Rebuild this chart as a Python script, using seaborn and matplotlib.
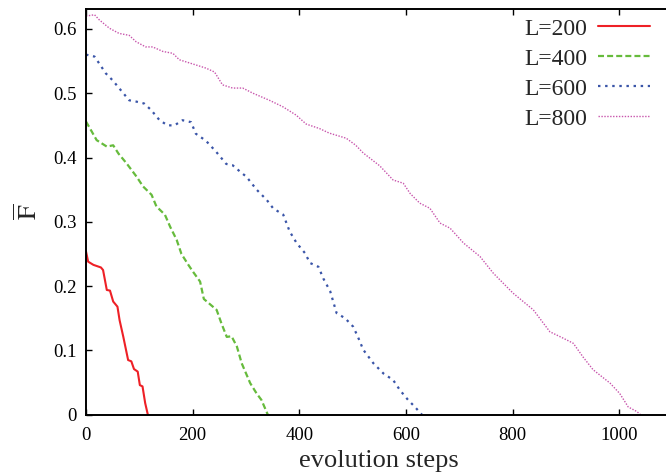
import matplotlib
matplotlib.use("Agg")
import matplotlib.pyplot as plt
import seaborn as sns
import pandas as pd

# ---- data ----
L200_x = [0, 4, 14, 28, 32, 39, 45, 51, 59, 63, 70, 79, 85, 90, 97, 101, 106, 111, 116]
L200_y = [0.254, 0.238, 0.233, 0.229, 0.225, 0.194, 0.193, 0.176, 0.168, 0.147, 0.121,
          0.085, 0.083, 0.071, 0.067, 0.046, 0.044, 0.018, 0.0]

L400_x = [0, 20, 39, 51, 61, 76, 95, 107, 123, 132, 148, 158, 170, 179, 192, 201, 214,
          221, 245, 254, 264, 273, 283, 292, 308, 320, 329, 341]
L400_y = [0.456, 0.427, 0.417, 0.419, 0.406, 0.391, 0.370, 0.355, 0.342, 0.324, 0.311,
          0.292, 0.272, 0.250, 0.233, 0.222, 0.207, 0.180, 0.163, 0.142, 0.121, 0.122,
          0.106, 0.080, 0.049, 0.033, 0.023, 0.0]

L600_x = [0, 16, 25, 37, 50, 62, 81, 94, 109, 122, 138, 153, 166, 181, 197, 206, 225,
          244, 263, 275, 289, 301, 320, 339, 351, 370, 382, 395, 411, 420, 436, 445,
          458, 470, 486, 501, 510, 520, 539, 558, 576, 589, 604, 617, 630]
L600_y = [0.560, 0.557, 0.546, 0.531, 0.520, 0.508, 0.489, 0.487, 0.484, 0.474, 0.458,
          0.450, 0.450, 0.458, 0.455, 0.437, 0.426, 0.409, 0.390, 0.388, 0.378, 0.370,
          0.350, 0.334, 0.321, 0.311, 0.285, 0.267, 0.251, 0.236, 0.230, 0.212, 0.192,
          0.158, 0.150, 0.137, 0.121, 0.101, 0.080, 0.064, 0.054, 0.038, 0.023, 0.012, 0.0]

L800_x = [0, 16, 25, 44, 62, 81, 94, 112, 125, 144, 163, 175, 206, 225, 241, 256, 275,
          294, 313, 344, 369, 394, 413, 438, 456, 488, 506, 520, 551, 576, 595, 608,
          626, 645, 664, 683, 708, 739, 764, 801, 839, 870, 895, 914, 932, 951, 983,
          1001, 1017, 1033, 1040]
L800_y = [0.620, 0.622, 0.614, 0.601, 0.593, 0.590, 0.580, 0.572, 0.572, 0.565, 0.562,
          0.552, 0.544, 0.539, 0.533, 0.513, 0.508, 0.508, 0.500, 0.489, 0.479, 0.466,
          0.452, 0.445, 0.438, 0.430, 0.419, 0.407, 0.387, 0.365, 0.360, 0.344, 0.329,
          0.321, 0.298, 0.290, 0.267, 0.246, 0.220, 0.189, 0.163, 0.129, 0.119, 0.111,
          0.090, 0.070, 0.049, 0.033, 0.012, 0.005, 0.0]

labels = ["L=200", "L=400", "L=600", "L=800"]
x_ticks = [0, 200, 400, 600, 800, 1000]
y_ticks = [0, 0.1, 0.2, 0.3, 0.4, 0.5, 0.6]
y_tick_labels = ["0", "0.1", "0.2", "0.3", "0.4", "0.5", "0.6"]

# ---- style ----
sns.set_style("ticks")
plt.rcParams["font.family"] = ["Liberation Serif", "DejaVu Serif"]
plt.rcParams["mathtext.fontset"] = "stix"

fig = plt.figure(figsize=(6.66, 4.74), dpi=100)
ax = fig.add_axes([86 / 666, 59.3 / 474, 586.5 / 666, 405.4 / 474])

series = [(L200_x, L200_y), (L400_x, L400_y), (L600_x, L600_y), (L800_x, L800_y)]
colors = ["#ee2026", "#66bb3c", "#3a55a8", "#c855ac"]
styles = [
    dict(linestyle="-", linewidth=1.5),
    dict(linestyle=(0, (2.7, 1.4)), linewidth=1.6),
    dict(linestyle=(0, (1.1, 2.1)), linewidth=1.6),
    dict(linestyle=(0, (1.0, 1.1)), linewidth=1.0),
]

for (xs, ys), lab, col, st in zip(series, labels, colors, styles):
    df = pd.DataFrame({"step": xs, "F": ys})
    sns.lineplot(data=df, x="step", y="F", ax=ax, color=col, label=lab,
                 estimator=None, sort=False, **st)

ax.set_xlim(0, 1100)
ax.set_ylim(0, 0.6305)
ax.set_xticks(x_ticks)
ax.set_xticklabels([str(v) for v in x_ticks])
ax.set_yticks(y_ticks)
ax.set_yticklabels(y_tick_labels)
ax.tick_params(direction="in", length=4.5, width=1.0, top=True, right=True,
               labelsize=13.5, colors="black")
ax.tick_params(axis="x", pad=9)
ax.tick_params(axis="y", pad=7)
for sp in ax.spines.values():
    sp.set_linewidth(1.4)
    sp.set_color("black")

ax.set_xlabel("evolution steps", fontsize=19, labelpad=4)
ax.set_ylabel(r"$\overline{\mathrm{F}}$", fontsize=19, labelpad=8)

leg = ax.legend(loc="upper right", bbox_to_anchor=(650 / 666, 1 - 18 / 474),
                bbox_transform=fig.transFigure, frameon=False, markerfirst=False,
                fontsize=17, handlelength=2.2, handletextpad=0.45,
                labelspacing=0.36, borderpad=0, borderaxespad=0)

fig.savefig("out.png", dpi=100)
